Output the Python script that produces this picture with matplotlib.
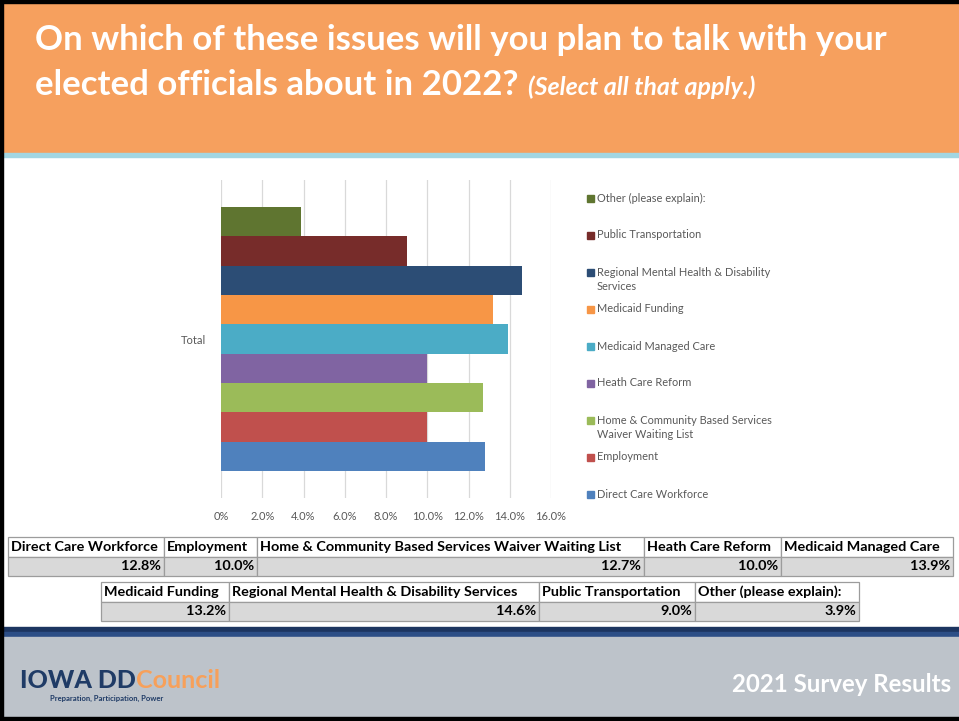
import textwrap
import matplotlib
matplotlib.use("Agg")
import matplotlib.pyplot as plt
from matplotlib.patches import Rectangle
from matplotlib.ticker import FuncFormatter

plt.rcParams['font.family'] = ['Lato', 'DejaVu Sans']

# survey answers, bottom bar first (same order as the summary table)
issues = [
    "Direct Care Workforce",
    "Employment",
    "Home & Community Based Services Waiver Waiting List",
    "Heath Care Reform",
    "Medicaid Managed Care",
    "Medicaid Funding",
    "Regional Mental Health & Disability Services",
    "Public Transportation",
    "Other (please explain):",
]
shares = [12.8, 10.0, 12.7, 10.0, 13.9, 13.2, 14.6, 9.0, 3.9]
bar_colors = ["#4F81BD", "#C0504D", "#9BBB59", "#8064A2", "#4BACC6",
              "#F79646", "#2C4D75", "#772C2A", "#5F7530"]
category = "Total"
x_ticks = [0, 2, 4, 6, 8, 10, 12, 14, 16]

title_line1 = "On which of these issues will you plan to talk with your"
title_line2 = "elected officials about in 2022?"
title_note = "(Select all that apply.)"
footer_text = "2021 Survey Results"

W, H = 959, 721
fig = plt.figure(figsize=(W / 100, H / 100), dpi=100)

# slide background drawn in pixel units
bg = fig.add_axes([0, 0, 1, 1])
bg.set_xlim(0, W)
bg.set_ylim(H, 0)
bg.axis('off')

def box(x0, y0, x1, y1, **kw):
    bg.add_patch(Rectangle((x0, y0), x1 - x0, y1 - y0, **kw))

box(0, 0, W, H, color="white", zorder=0)
box(0, 0, W, 153, color="#F6A05E", zorder=1)
box(0, 153, W, 157, color="#A2D6E2", zorder=1)
box(0, 627, W, 632, color="#1C3560", zorder=1)
box(0, 632, W, 637, color="#2C4E86", zorder=1)
box(0, 637, W, H, color="#BDC3CA", zorder=1)
# black slide frame (top, left, bottom)
box(0, 0, W, 3, color="black", zorder=5)
box(0, 0, 3, H, color="black", zorder=5)
box(0, 717, W, H, color="black", zorder=5)

# title
t1 = bg.text(35, 50, title_line1, color="white", fontsize=25, fontweight="bold",
             va="baseline", ha="left", zorder=3)
t2 = bg.text(35, 95, title_line2, color="white", fontsize=25, fontweight="bold",
             va="baseline", ha="left", zorder=3)
bg.annotate(title_note, xy=(1, 95), xycoords=(t2, 'data'), xytext=(10, 0),
            textcoords='offset pixels', color="white", fontsize=18,
            fontweight="bold", style="italic", va="baseline", ha="left", zorder=3)

# footer
logo = bg.text(20, 688, "IOWA DD", color="#1F3B66", fontsize=18, fontweight="black",
               va="baseline", ha="left", zorder=3)
bg.annotate("Council", xy=(1, 688), xycoords=(logo, 'data'), color="#F7A05A",
            fontsize=18, fontweight="bold", va="baseline", ha="left", zorder=3)
bg.text(50, 701, "Preparation, Participation, Power", color="#1F3B66", fontsize=5.5,
        fontweight="bold", va="baseline", ha="left", zorder=3)
bg.text(951, 692, footer_text, color="white", fontsize=17.3, fontweight="bold",
        va="baseline", ha="right", zorder=3)

# bar chart
ax = fig.add_axes([221 / W, 1 - 498 / H, 330 / W, 318 / H])
ax.set_facecolor("none")
n = len(shares)
span = 0.83
bh = span / n
for i, (name, v, c) in enumerate(zip(issues, shares, bar_colors)):
    ax.barh(-span / 2 + (i + 0.5) * bh, v, height=bh, color=c, label=name, zorder=2)

ax.set_xlim(0, 16)
ax.set_ylim(-0.5, 0.5)
ax.set_xticks(x_ticks)
ax.xaxis.set_major_formatter(FuncFormatter(lambda x, _: "0%" if x == 0 else f"{x:.1f}%"))
ax.set_yticks([0])
ax.set_yticklabels([category])
ax.tick_params(axis="both", length=0, labelsize=8, labelcolor="#595959")
ax.tick_params(axis="x", pad=9)
ax.tick_params(axis="y", pad=11)
ax.grid(axis="x", color="#D9D9D9", linewidth=0.9, zorder=0)
for s in ax.spines.values():
    s.set_visible(False)

# legend, top entry is the last series
for k, (name, c) in enumerate(zip(issues[::-1], bar_colors[::-1])):
    y = 198 + 37 * k
    box(586.5, y - 3.5, 593.5, y + 3.5, color=c, zorder=3)
    for j, line in enumerate(textwrap.wrap(name, 35)):
        bg.text(597, y + 15 * j, line, fontsize=7.9, color="#595959",
                va="center", ha="left", zorder=3)

# summary table, two blocks of label / value rows
table_rows = [
    (issues[:5], shares[:5], [8, 164, 257, 644, 781, 953], 537),
    (issues[5:], shares[5:], [101, 229, 539, 695, 859], 582),
]
row_h = 19.5
for names, vals, edges, top in table_rows:
    for name, v, x0, x1 in zip(names, vals, edges[:-1], edges[1:]):
        box(x0, top, x1, top + row_h, facecolor="white", edgecolor="#9C9C9C",
            linewidth=0.9, zorder=3)
        box(x0, top + row_h, x1, top + 2 * row_h, facecolor="#D9D9D9",
            edgecolor="#9C9C9C", linewidth=0.9, zorder=3)
        bg.text(x0 + 3, top + row_h / 2, name, fontsize=10.4, fontweight="bold",
                va="center", ha="left", zorder=4)
        bg.text(x1 - 3, top + 1.5 * row_h, f"{v:.1f}%", fontsize=10.4,
                fontweight="bold", va="center", ha="right", zorder=4)

fig.savefig("out.png", dpi=100)
